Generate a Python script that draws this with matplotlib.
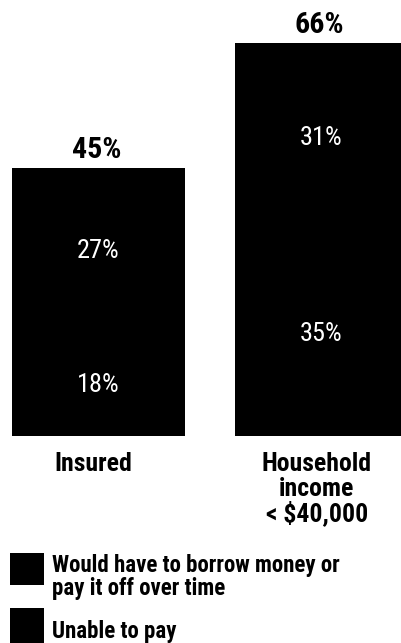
import matplotlib
matplotlib.use("Agg")
import matplotlib.pyplot as plt
from matplotlib.patches import Rectangle

# Data
categories = ["Insured", "Household\nincome\n< $40,000"]
unable_to_pay = [18, 35]
borrow_or_over_time = [27, 31]
totals = [45, 66]
legend_labels = ["Would have to borrow money or\npay it off over time", "Unable to pay"]

FAMILY = ["Roboto Condensed", "Liberation Sans Narrow", "Open Sans Condensed",
          "DejaVu Sans Condensed", "DejaVu Sans"]
plt.rcParams["font.family"] = FAMILY

W, H, DPI = 401, 643, 100
fig = plt.figure(figsize=(W / DPI, H / DPI), dpi=DPI)
fig.patch.set_facecolor("white")

# axes: baseline at pixel row 436, ~5.955 px per percentage point
base_px = 436
px_per_pct = 5.955
XL, XR = -0.4417, 1.3565
ax = fig.add_axes([0, (H - base_px) / H, 1, base_px / H])
ax.set_ylim(0, base_px / px_per_pct)
ax.set_xlim(XL, XR)
ax.axis("off")

x = [0, 1]
width = 0.776
ax.bar(x, unable_to_pay, width=width, color="black", linewidth=0)
ax.bar(x, borrow_or_over_time, width=width, bottom=unable_to_pay, color="black", linewidth=0)

for xi, lo, hi, tot in zip(x, unable_to_pay, borrow_or_over_time, totals):
    ax.text(xi, lo / 2 - 1.6, f"{lo}%", ha="center", va="baseline",
            color="white", fontsize=19, fontweight="normal")
    ax.text(xi, lo + hi / 2 - 1.6, f"{hi}%", ha="center", va="baseline",
            color="white", fontsize=19, fontweight="normal")
    ax.text(xi - 0.01, tot + 1.7, f"{tot}%", ha="center", va="baseline",
            color="black", fontsize=21.5, fontweight="bold")

# category labels below the bars, one text per line
first_base = 471
line_step = 25
for xi, cat in zip(x, categories):
    fx = (xi - XL) / (XR - XL) - 0.012
    for i, line in enumerate(cat.split("\n")):
        fig.text(fx, 1 - (first_base + i * line_step) / H, line, ha="center",
                 va="baseline", fontsize=18.5, fontweight="bold", color="black")

# legend
sq = [(10, 553, 34, 32), (10, 608, 34, 35)]
for (sx, sy, sw, sh) in sq:
    fig.patches.append(Rectangle((sx / W, 1 - (sy + sh) / H), sw / W, sh / H,
                                 transform=fig.transFigure, facecolor="black",
                                 edgecolor="none"))
leg_bases = [[572, 595], [638]]
for label, bases in zip(legend_labels, leg_bases):
    for line, b in zip(label.split("\n"), bases):
        fig.text(52 / W, 1 - b / H, line, ha="left", va="baseline",
                 fontsize=16.5, fontweight="bold", color="black")

fig.savefig("out.png", dpi=DPI, facecolor="white")
